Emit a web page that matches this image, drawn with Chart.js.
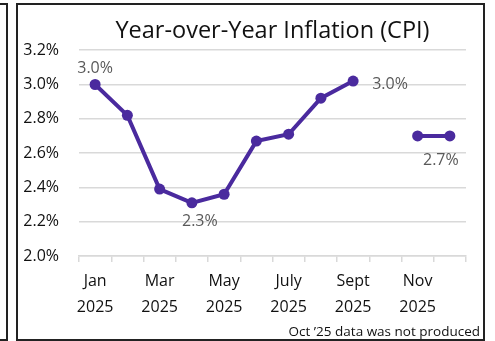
<!DOCTYPE html>
<html>
<head>
<meta charset="utf-8">
<script src="https://cdn.jsdelivr.net/npm/chart.js@4"></script>
<style>
  html, body { margin: 0; padding: 0; background: #fff; }
  body { width: 495px; height: 341px; position: relative; overflow: hidden; }
  .panel { position: absolute; box-sizing: border-box; border: 2px solid #222; }
  #prev { left: -10px; top: 3px; width: 18px; height: 338px; }
  #frame { left: 16px; top: 3px; width: 469px; height: 338px; }
  #cpi { position: absolute; left: 0; top: 0; }
</style>
</head>
<body>
<div class="panel" id="prev"></div>
<div class="panel" id="frame"></div>
<canvas id="cpi" width="495" height="341"></canvas>
<script>
// monthly CPI, year over year (%); October was never published
const months = ["Jan", "Feb", "Mar", "Apr", "May", "June", "July", "Aug", "Sept", "Oct", "Nov", "Dec"];
const year = "2025";
const cpi = [3.0, 2.82, 2.39, 2.31, 2.36, 2.67, 2.71, 2.92, 3.02, null, 2.7, 2.7];
// which points get a value label, and on which side
const labelled = { 0: "above", 3: "below", 8: "right", 11: "below" };
const footnote = "Oct \u201925 data was not produced";

const purple = "#4a2a9e";
const font = "'Open Sans', 'Noto Sans', sans-serif";

const valueLabels = {
  id: "valueLabels",
  afterDatasetsDraw(chart) {
    const ctx = chart.ctx;
    const meta = chart.getDatasetMeta(0);
    ctx.save();
    ctx.font = "16px " + font;
    ctx.fillStyle = "#595959";
    ctx.textBaseline = "middle";
    for (const i in labelled) {
      const pt = meta.data[i];
      const text = cpi[i].toFixed(1) + "%";
      const side = labelled[i];
      if (side === "above") {
        ctx.textAlign = "center";
        ctx.fillText(text, pt.x, pt.y - 16);
      } else if (side === "below") {
        ctx.textAlign = "center";
        ctx.fillText(text, pt.x + (i == 11 ? -9 : 8), pt.y + (i == 11 ? 24 : 19));
      } else {
        ctx.textAlign = "left";
        ctx.fillText(text, pt.x + 19, pt.y + 3);
      }
    }
    ctx.restore();
  }
};

const note = {
  id: "note",
  afterDraw(chart) {
    const ctx = chart.ctx;
    ctx.save();
    ctx.font = "13.5px " + font;
    ctx.fillStyle = "#111";
    ctx.textAlign = "right";
    ctx.textBaseline = "alphabetic";
    ctx.fillText(footnote, 480, 336);
    ctx.restore();
  }
};

new Chart(document.getElementById("cpi"), {
  type: "line",
  data: {
    labels: months.map((m) => [m, year]),
    datasets: [
      {
        data: cpi,
        borderColor: purple,
        backgroundColor: purple,
        borderWidth: 4,
        pointRadius: 5.5,
        pointBackgroundColor: purple,
        pointBorderWidth: 0,
        tension: 0,
        spanGaps: false,
      },
    ],
  },
  options: {
    responsive: false,
    animation: false,
    layout: { padding: { top: 0, right: 29, bottom: 0, left: 0 } },
    plugins: {
      legend: { display: false },
      tooltip: { enabled: false },
      title: {
        display: true,
        text: "Year-over-Year Inflation (CPI)",
        fullSize: false,
        color: "#111",
        font: { family: font, size: 23.5, weight: "normal", lineHeight: 1.2 },
        padding: { top: 17, bottom: 5 },
      },
    },
    scales: {
      x: {
        offset: true,
        grid: {
          offset: true,
          drawOnChartArea: false,
          drawTicks: true,
          tickLength: 6,
          color: "#d9d9d9",
          lineWidth: 1.5,
        },
        border: { color: "#d9d9d9", width: 1.5 },
        ticks: {
          autoSkip: false,
          maxRotation: 0,
          padding: 7,
          color: "#111",
          font: { family: font, size: 16, lineHeight: 1.6 },
          callback: function (value, index) {
            return index % 2 === 0 ? this.getLabelForValue(value) : "";
          },
        },
        afterFit(scale) {
          scale.height = 85;
        },
      },
      y: {
        min: 2.0,
        max: 3.2,
        grid: { drawTicks: false, color: "#d9d9d9", lineWidth: 1.5 },
        border: { display: false },
        ticks: {
          stepSize: 0.2,
          padding: 20,
          color: "#111",
          font: { family: font, size: 16 },
          callback: (v) => v.toFixed(1) + "%",
        },
        afterFit(scale) {
          scale.width = 79;
        },
      },
    },
  },
  plugins: [valueLabels, note],
});
</script>
</body>
</html>
